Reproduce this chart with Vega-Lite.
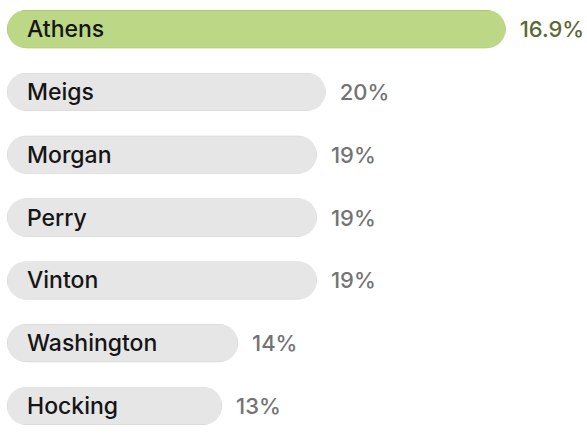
{
  "$schema": "https://vega.github.io/schema/vega-lite/v6.json",
  "width": 580,
  "height": 435,
  "autosize": {"type": "none"},
  "padding": {"left": 7, "top": 0, "right": 0, "bottom": 0},
  "background": "#ffffff",
  "config": {"view": {"stroke": null}},
  "data": {
    "values": [
      {"county": "Athens", "length": 31.3, "label": "16.9%", "highlight": "yes"},
      {"county": "Meigs", "length": 20.0, "label": "20%", "highlight": "no"},
      {"county": "Morgan", "length": 19.45, "label": "19%", "highlight": "no"},
      {"county": "Perry", "length": 19.45, "label": "19%", "highlight": "no"},
      {"county": "Vinton", "length": 19.45, "label": "19%", "highlight": "no"},
      {"county": "Washington", "length": 14.5, "label": "14%", "highlight": "no"},
      {"county": "Hocking", "length": 13.5, "label": "13%", "highlight": "no"}
    ]
  },
  "encoding": {
    "y": {
      "field": "county",
      "type": "nominal",
      "sort": null,
      "axis": null,
      "scale": {"paddingInner": 0.39, "paddingOuter": 0.16}
    }
  },
  "layer": [
    {
      "mark": {"type": "bar", "cornerRadius": 19, "strokeWidth": 1.2},
      "encoding": {
        "x": {"field": "length", "type": "quantitative", "axis": null, "scale": {"domain": [0, 36.4], "nice": false, "zero": true}},
        "color": {
          "field": "highlight",
          "type": "nominal",
          "legend": null,
          "scale": {"domain": ["yes", "no"], "range": ["#bcd886", "#e6e6e6"]}
        },
        "stroke": {
          "field": "highlight",
          "type": "nominal",
          "legend": null,
          "scale": {"domain": ["yes", "no"], "range": ["#a4c26a", "#d6d6d6"]}
        }
      }
    },
    {
      "mark": {"type": "text", "align": "left", "baseline": "middle", "dx": 20, "dy": 1, "font": "Inter", "fontSize": 23, "fontWeight": 500, "color": "#151515"},
      "encoding": {
        "x": {"datum": 0, "type": "quantitative"},
        "text": {"field": "county"}
      }
    },
    {
      "mark": {"type": "text", "align": "left", "baseline": "middle", "dx": 14, "dy": 1, "font": "Inter", "fontSize": 22, "fontWeight": 500},
      "encoding": {
        "x": {"field": "length", "type": "quantitative"},
        "text": {"field": "label"},
        "color": {
          "field": "highlight",
          "type": "nominal",
          "legend": null,
          "scale": {"domain": ["yes", "no"], "range": ["#5b6a33", "#737373"]}
        }
      }
    }
  ],
  "resolve": {"scale": {"color": "independent"}}
}
